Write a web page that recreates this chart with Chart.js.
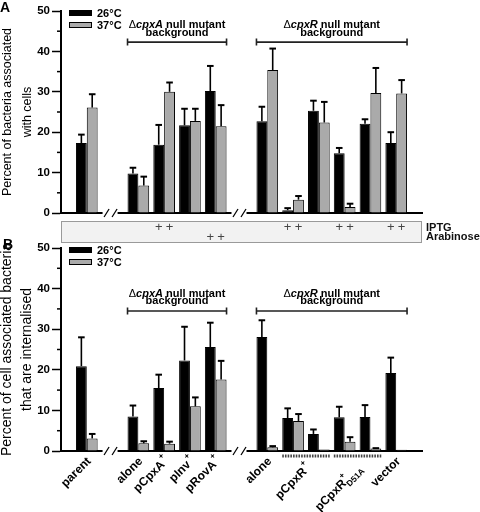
<!DOCTYPE html>
<html><head><meta charset="utf-8">
<script src="https://cdn.jsdelivr.net/npm/chart.js@4/dist/chart.umd.min.js"></script>
<style>
html,body{margin:0;padding:0;background:#fff;}
#wrap{position:relative;width:480px;height:512px;overflow:hidden;background:#fff;}
canvas{position:absolute;left:0;}
#ca{top:0;} #cb{top:236px;}
</style></head><body>
<div id="wrap"><canvas id="ca" width="480" height="250"></canvas><canvas id="cb" width="480" height="276"></canvas></div>
<script>
// ---- data ----
const categories = ['', 'parent', '', 'alone', 'pCpxA', 'pInv', 'pRovA', '', 'alone', 'pCpxR', 'pCpxR', 'pCpxR D51A', 'pCpxR D51A', 'vector', ''];
const seriesLabels = ['26°C', '37°C'];
const assoc26    = [null, 17.3, null, 9.8, 16.9, 21.7, 30.2, null, 22.7, 0.7, 25.3, 14.8, 22.1, 17.3, null];
const assoc26Err = [null, 2.1, null, 1.4, 4.9, 4.1, 6.2, null, 3.6, 0.5, 2.5, 1.3, 1.1, 2.7, null];
const assoc37    = [null, 26.1, null, 6.8, 30.0, 22.8, 21.5, null, 35.4, 3.3, 22.4, 1.5, 29.7, 29.6, null];
const assoc37Err = [null, 3.3, null, 2.2, 2.3, 3.0, 5.2, null, 5.3, 0.9, 5.1, 0.8, 6.2, 3.3, null];
const intern26    = [null, 20.9, null, 8.5, 15.5, 22.3, 25.6, null, 28.1, 8.1, 4.2, 8.3, 8.4, 19.2, null];
const intern26Err = [null, 7.1, null, 2.7, 3.3, 8.3, 6.0, null, 4.1, 2.4, 1.1, 2.6, 2.9, 3.8, null];
const intern37    = [null, 3.1, null, 1.9, 1.8, 11.0, 17.6, null, 0.9, 7.4, 0.4, 2.3, 0.6, 0.3, null];
const intern37Err = [null, 1.1, null, 0.5, 0.5, 2.2, 4.6, null, 0.3, 1.7, 0, 1.1, 0.1, 0, null];
const iptg      = [0,0,0,0,1,0,0,0,0,1,0,1,0,1,0];
const arabinose = [0,0,0,0,0,0,1,0,0,0,0,0,0,0,0];
const breakSlots = [2, 7];
const groupGene = ['cpxA', 'cpxR'];
const groupFrom = [3, 8];
const groupTo   = [6, 13];
const xLabelText = ['parent','alone','pCpxA','pInv','pRovA','alone','pCpxR','pCpxR','vector'];
const xLabelSub  = ['','','','','','','','D51A',''];
const xLabelSup  = ['','','+','+','+','','+','+',''];
const xLabelFrom = [1,3,4,5,6,8,9,11,13];
const xLabelTo   = [1,3,4,5,6,8,10,12,13];
const titleA = ['Percent of bacteria associated', 'with cells'];
const titleB = ['Percent of cell associated bacteria', 'that are internalised'];

const FF = "'Liberation Sans', Arial, Helvetica, sans-serif";
const BLACK = '#000000', GRAY = '#aaaaaa';

const errorBars = {
  id: 'errorBars',
  afterDatasetsDraw(chart) {
    const ctx = chart.ctx, ys = chart.scales.y;
    chart.data.datasets.forEach((ds, di) => {
      const meta = chart.getDatasetMeta(di);
      meta.data.forEach((bar, i) => {
        const v = ds.data[i], e = ds.err[i];
        if (v == null || e == null || e <= 0) return;
        const yTop = ys.getPixelForValue(v + e), yBar = ys.getPixelForValue(v);
        ctx.save(); ctx.strokeStyle = '#000';
        ctx.lineWidth = 1.6;
        ctx.beginPath(); ctx.moveTo(bar.x, yBar); ctx.lineTo(bar.x, yTop); ctx.stroke();
        ctx.lineWidth = 2;
        ctx.beginPath(); ctx.moveTo(bar.x - 3.3, yTop); ctx.lineTo(bar.x + 3.3, yTop); ctx.stroke();
        ctx.restore();
      });
    });
  }
};

function drawFigure(chart) {
  const o = chart.options.plugins.figure;
  const ctx = chart.ctx, ca = chart.chartArea, xs = chart.scales.x, ys = chart.scales.y;
  const m0 = chart.getDatasetMeta(0), m1 = chart.getDatasetMeta(1);
  ctx.save();
  ctx.fillStyle = '#000'; ctx.strokeStyle = '#000';
  // panel letter
  ctx.font = `bold 14px ${FF}`; ctx.textAlign = 'left'; ctx.textBaseline = 'alphabetic';
  ctx.fillText(o.letter, o.letterX, o.letterY);
  // minor ticks
  ctx.lineWidth = 1.5;
  for (let v = 5; v < 50; v += 10) {
    const py = ys.getPixelForValue(v);
    ctx.beginPath(); ctx.moveTo(ca.left - 4, py); ctx.lineTo(ca.left, py); ctx.stroke();
  }
  // legend
  chart.data.datasets.forEach((ds, i) => {
    const ty = ca.top - 1 + i * 12;
    ctx.fillStyle = ds.backgroundColor; ctx.fillRect(69, ty, 23, 6);
    ctx.lineWidth = 1; ctx.strokeStyle = '#000'; ctx.strokeRect(69.5, ty + 0.5, 22, 5);
    ctx.fillStyle = '#000'; ctx.font = `bold 11px ${FF}`; ctx.textBaseline = 'middle';
    ctx.fillText(ds.label, 97, ty + 3.5);
  });
  // y title
  ctx.save();
  const cy = (ca.top + ca.bottom) / 2;
  ctx.translate(0, cy); ctx.rotate(-Math.PI / 2);
  ctx.font = `${o.titleSize}px ${FF}`; ctx.textAlign = 'center'; ctx.textBaseline = 'alphabetic';
  ctx.fillText(o.title[0], 0, 11);
  ctx.fillText(o.title[1], 0, 31);
  ctx.restore();
  // group annotations
  const by = ys.getPixelForValue(o.bracketValue);
  groupGene.forEach((g, k) => {
    const b0 = m0.data[groupFrom[k]], b1 = m1.data[groupTo[k]];
    const xl = b0.x - b0.width / 2, xr = b1.x + b1.width / 2, xc = (xl + xr) / 2;
    ctx.strokeStyle = '#222'; ctx.lineWidth = 1.6;
    ctx.beginPath(); ctx.moveTo(xl, by); ctx.lineTo(xr, by);
    ctx.moveTo(xl, by - 3.5); ctx.lineTo(xl, by + 3.5);
    ctx.moveTo(xr, by - 3.5); ctx.lineTo(xr, by + 3.5); ctx.stroke();
    const parts = [['Δ', `11px ${FF}`], [g, `italic bold 11px ${FF}`], [' null mutant', `bold 11px ${FF}`]];
    let w = 0; parts.forEach(p => { ctx.font = p[1]; w += ctx.measureText(p[0]).width; });
    let x = xc - w / 2;
    ctx.fillStyle = '#000'; ctx.textAlign = 'left'; ctx.textBaseline = 'alphabetic';
    parts.forEach(p => { ctx.font = p[1]; ctx.fillText(p[0], x, by - 14); x += ctx.measureText(p[0]).width; });
    ctx.font = `bold 11px ${FF}`; ctx.textAlign = 'center';
    ctx.fillText('background', xc, by - 6.5);
  });
  // axis breaks
  const ay = ca.bottom;
  breakSlots.forEach(s => {
    const cx = xs.getPixelForValue(s) - 2;
    ctx.fillStyle = '#fff'; ctx.fillRect(cx - 8, ay - 2, 15, 4);
    ctx.strokeStyle = '#000'; ctx.lineWidth = 1.3;
    [-4, 4].forEach(d => {
      ctx.beginPath(); ctx.moveTo(cx + d - 2.5, ay + 4); ctx.lineTo(cx + d + 2.5, ay - 4); ctx.stroke();
    });
  });
  // IPTG / Arabinose box
  if (o.inducers) {
    const t = ay + 8, h = 22;
    ctx.fillStyle = '#f2f2f2'; ctx.fillRect(ca.left, t, ca.right - ca.left, h);
    ctx.strokeStyle = '#9a9a9a'; ctx.lineWidth = 1; ctx.strokeRect(ca.left + 0.5, t + 0.5, ca.right - ca.left - 1, h - 1);
    ctx.fillStyle = '#444'; ctx.font = `13px ${FF}`; ctx.textAlign = 'center'; ctx.textBaseline = 'middle';
    [[iptg, t + 6.5], [arabinose, t + 16]].forEach(([arr, yy]) => {
      arr.forEach((f, i) => { if (!f) return; [m0, m1].forEach(m => ctx.fillText('+', m.data[i].x, yy)); });
    });
    ctx.fillStyle = '#111'; ctx.font = `bold 11px ${FF}`; ctx.textAlign = 'left';
    ctx.fillText('IPTG', ca.right + 4, t + 6.5);
    ctx.fillText('Arabinose', ca.right + 4, t + 16);
  }
  // x labels
  if (o.xLabels) {
    xLabelText.forEach((txt, k) => {
      const a = m0.data[xLabelFrom[k]], b = m1.data[xLabelTo[k]];
      const span = xLabelFrom[k] !== xLabelTo[k];
      const xc = (xs.getPixelForValue(xLabelFrom[k]) + xs.getPixelForValue(xLabelTo[k])) / 2;
      if (span) {
        ctx.save(); ctx.strokeStyle = '#444'; ctx.lineWidth = 3; ctx.setLineDash([1.6, 1.1]);
        ctx.beginPath(); ctx.moveTo(a.x - a.width / 2, ay + 5); ctx.lineTo(b.x + b.width / 2, ay + 5); ctx.stroke();
        ctx.restore();
      }
      const ax = xc + 2, ayy = ay + (span ? 15 : 8);
      ctx.save(); ctx.translate(ax, ayy); ctx.rotate(-Math.PI / 4);
      ctx.fillStyle = '#000'; ctx.textAlign = 'left'; ctx.textBaseline = 'alphabetic';
      const fMain = `bold 12px ${FF}`, fSmall = `bold 8.5px ${FF}`;
      ctx.font = fMain; const wm = ctx.measureText(txt).width;
      ctx.font = fSmall;
      const ws = xLabelSub[k] ? ctx.measureText(xLabelSub[k]).width : 0;
      const wp = xLabelSup[k] ? ctx.measureText(xLabelSup[k]).width : 0;
      const W = wm + Math.max(ws, wp);
      ctx.font = fMain; ctx.fillText(txt, -W, 4);
      ctx.font = fSmall;
      if (xLabelSub[k]) ctx.fillText(xLabelSub[k], -W + wm, 8);
      if (xLabelSup[k]) ctx.fillText(xLabelSup[k], -W + wm + (ws ? 0 : 1), -3);
      ctx.restore();
    });
  }
  ctx.restore();
}
const figurePlugin = { id: 'figure', afterDraw: drawFigure };

function makeChart(id, d26, e26, d37, e37, fig, pad) {
  return new Chart(document.getElementById(id), {
    type: 'bar',
    data: {
      labels: categories,
      datasets: [
        { label: seriesLabels[0], data: d26, err: e26, backgroundColor: BLACK, borderColor: '#000', borderWidth: 1 },
        { label: seriesLabels[1], data: d37, err: e37, backgroundColor: GRAY, borderColor: '#000', borderWidth: 1 }
      ]
    },
    options: {
      responsive: false, animation: false, devicePixelRatio: 1,
      layout: { padding: pad },
      categoryPercentage: 0.84, barPercentage: 1.0,
      plugins: { legend: { display: false }, tooltip: { enabled: false }, figure: fig },
      scales: {
        x: { type: 'category', offset: false, grid: { display: false }, ticks: { display: false },
             border: { display: true, color: '#000', width: 2 },
             afterFit: s => { s.height = 0; } },
        y: { min: 0, max: 50, ticks: { stepSize: 10, color: '#000', padding: 2, font: { family: FF, weight: 'bold', size: 11.5 } },
             grid: { display: true, drawOnChartArea: false, drawTicks: true, tickLength: 9, tickWidth: 1.5, tickColor: '#000' },
             border: { display: true, color: '#000', width: 2 },
             afterFit: s => { s.width = 61; } }
      }
    },
    plugins: [errorBars, figurePlugin]
  });
}

makeChart('ca', assoc26, assoc26Err, assoc37, assoc37Err,
  { letter: 'A', letterX: 0, letterY: 12, title: titleA, titleSize: 12.5, bracketValue: 42.3, inducers: true, xLabels: false },
  { left: 0, right: 58, top: 11, bottom: 37 });
makeChart('cb', intern26, intern26Err, intern37, intern37Err,
  { letter: 'B', letterX: 3, letterY: 13, title: titleB, titleSize: 14, bracketValue: 34.5, inducers: false, xLabels: true },
  { left: 0, right: 58, top: 12, bottom: 61 });
</script>
</body></html>
